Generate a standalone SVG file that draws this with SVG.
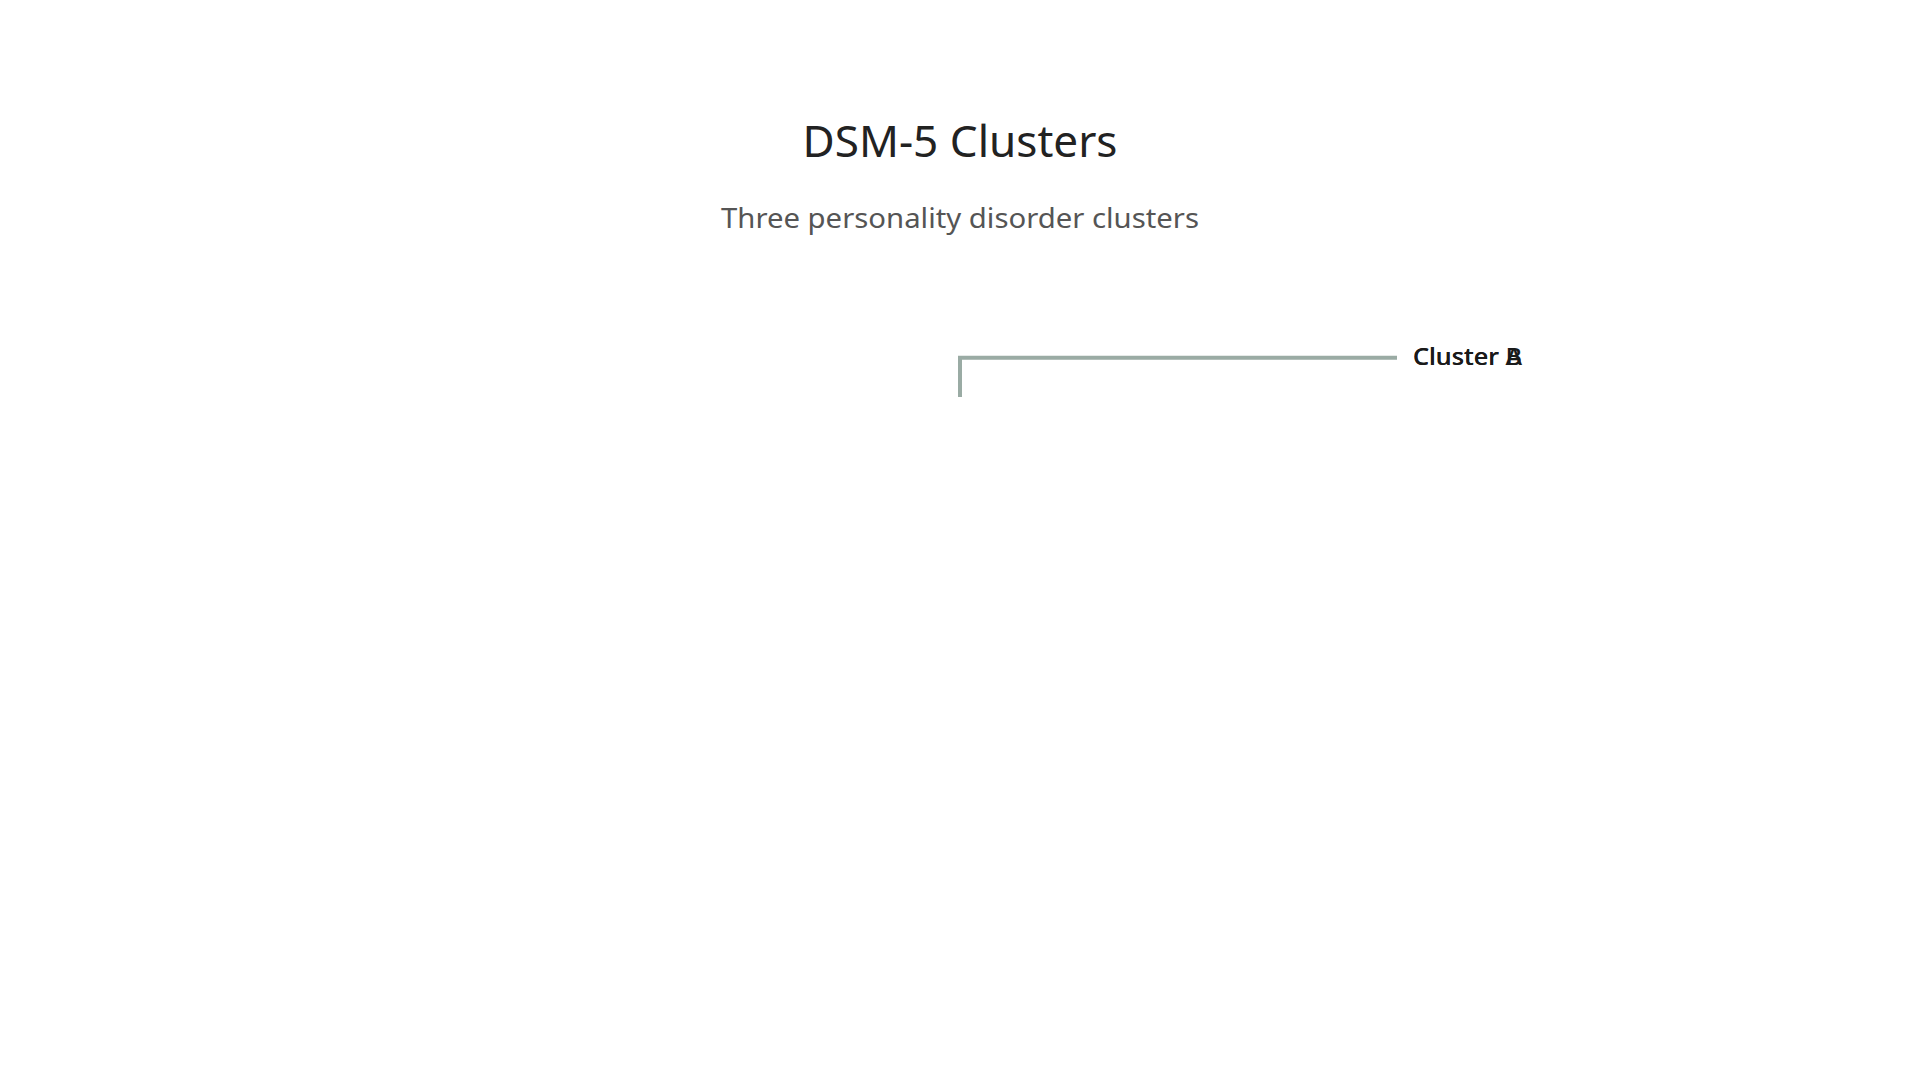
<svg xmlns="http://www.w3.org/2000/svg" width="1920" height="1080" viewBox="0 0 1920 1080">
<style>
.title{font-family:"Noto Sans","Open Sans",sans-serif;font-size:44px;fill:#222222;text-anchor:middle}
.sub{font-family:"Noto Sans","Open Sans",sans-serif;font-size:28px;fill:#555555;text-anchor:middle}
.lbl{font-family:"Noto Sans","Open Sans",sans-serif;font-size:24px;font-weight:500;fill:#1a1a1a}
.conn{fill:none;stroke:#9aaba4;stroke-width:4}
</style>
<rect width="1920" height="1080" fill="#ffffff"/>
<g id="header">
<text class="title" x="960" y="157" textLength="315" lengthAdjust="spacingAndGlyphs">DSM-5 Clusters</text>
<text class="sub" x="960" y="228" textLength="478" lengthAdjust="spacingAndGlyphs">Three personality disorder clusters</text>
</g>
<g id="connectors">
<path class="conn" d="M960,397 V357.7 H1397"/>
</g>
<g id="cluster-a">
<text class="lbl" x="1413" y="365" textLength="109" lengthAdjust="spacingAndGlyphs">Cluster A</text>
</g>
<g id="cluster-b">
<text class="lbl" x="1413" y="365" textLength="109" lengthAdjust="spacingAndGlyphs">Cluster B</text>
</g>
</svg>
